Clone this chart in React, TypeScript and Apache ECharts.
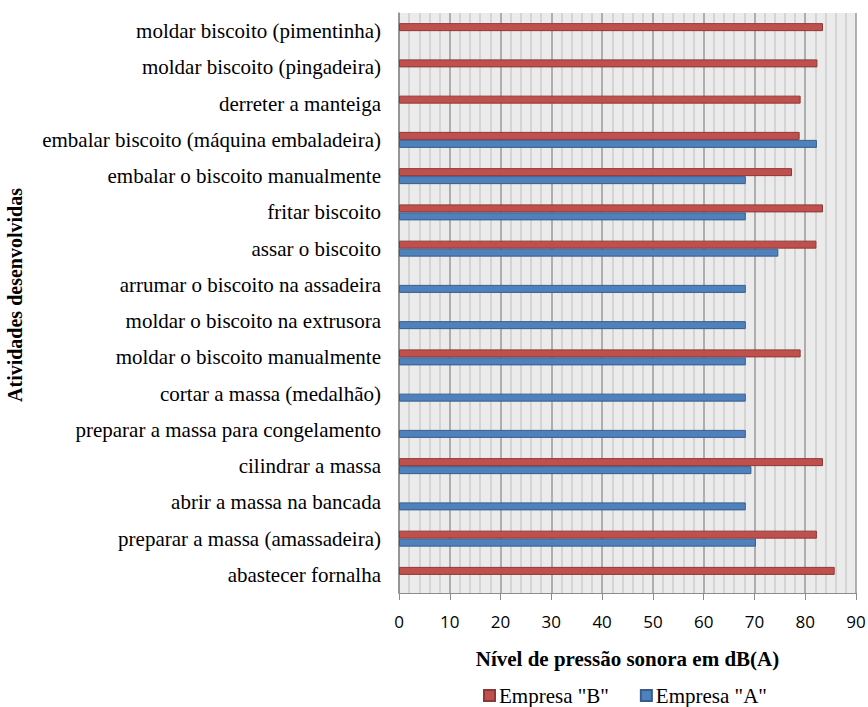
import React, { useEffect, useRef } from "react";
import * as echarts from "echarts";

const categories = [
  "abastecer fornalha",
  "preparar a massa (amassadeira)",
  "abrir a massa na bancada",
  "cilindrar a massa",
  "preparar a massa para congelamento",
  "cortar a massa (medalhão)",
  "moldar o biscoito manualmente",
  "moldar o biscoito na extrusora",
  "arrumar o biscoito na assadeira",
  "assar o biscoito",
  "fritar biscoito",
  "embalar o biscoito manualmente",
  "embalar biscoito (máquina embaladeira)",
  "derreter a manteiga",
  "moldar biscoito (pingadeira)",
  "moldar biscoito (pimentinha)",
];

const empresaA: (number | null)[] = [
  null, 70.3, 68.3, 69.4, 68.3, 68.3, 68.3, 68.3, 68.3, 74.7, 68.3, 68.3, 82.3, null, null, null,
];

const empresaB: (number | null)[] = [
  85.8, 82.3, null, 83.5, null, null, 79.1, null, null, 82.2, 83.5, 77.4, 78.9, 79.1, 82.4, 83.5,
];

const xTicks = { min: 0, max: 90, interval: 10 };

const SERIF = "'Liberation Serif', 'Times New Roman', 'DejaVu Serif', serif";

export default function App() {
  const ref = useRef<HTMLDivElement>(null);
  useEffect(() => {
    if (!ref.current) return;
    const chart = echarts.init(ref.current, undefined, { renderer: "svg" });
    chart.setOption({
      animation: false,
      backgroundColor: "#ffffff",
      grid: {
        left: 399,
        right: 12,
        top: 13,
        bottom: 114,
        show: true,
        backgroundColor: "#ebebeb",
        borderWidth: 0,
        containLabel: false,
        outerBoundsMode: "none",
      },
      legend: {
        data: ['Empresa "B"', 'Empresa "A"'],
        left: 483,
        top: 685,
        padding: 0,
        itemWidth: 11,
        itemHeight: 11,
        itemGap: 31,
        icon: "rect",
        textStyle: {
          fontFamily: SERIF,
          fontSize: 21,
          color: "#000",
          padding: [0, 0, 0, -1],
        },
      },
      xAxis: {
        type: "value",
        min: xTicks.min,
        max: xTicks.max,
        interval: xTicks.interval,
        name: "Nível de pressão sonora em dB(A)",
        nameLocation: "middle",
        nameGap: 55,
        nameTextStyle: {
          fontFamily: SERIF,
          fontWeight: "bold",
          fontSize: 21,
          color: "#000",
        },
        axisLine: { show: true, lineStyle: { color: "#8c8c8c", width: 1 } },
        axisTick: { show: true, length: 7, lineStyle: { color: "#8c8c8c" } },
        axisLabel: {
          fontFamily: "'Open Sans', sans-serif",
          fontSize: 17,
          color: "#000",
          margin: 20,
        },
        splitLine: { show: true, lineStyle: { color: "#9a9a9a", width: 1.5 } },
        minorTick: { show: false, splitNumber: 5 },
        minorSplitLine: { show: true, lineStyle: { color: "#cdcdcd", width: 1.5 } },
      },
      yAxis: {
        type: "category",
        data: categories,
        name: "Atividades desenvolvidas",
        nameLocation: "middle",
        nameGap: 374,
        nameTextStyle: {
          fontFamily: SERIF,
          fontWeight: "bold",
          fontSize: 20,
          color: "#000",
          padding: [0, 0, 0, 16],
        },
        axisLine: { show: true, lineStyle: { color: "#8c8c8c", width: 1.5 } },
        axisTick: { show: false },
        axisLabel: {
          fontFamily: SERIF,
          fontSize: 21,
          color: "#000",
          margin: 18,
        },
        splitLine: { show: false },
      },
      series: [
        {
          name: 'Empresa "B"',
          type: "bar",
          data: empresaB,
          barWidth: 8,
          barGap: "0%",
          itemStyle: { color: "#c0504d", borderColor: "#8c3836", borderWidth: 1 },
        },
        {
          name: 'Empresa "A"',
          type: "bar",
          data: empresaA,
          barWidth: 8,
          barGap: "0%",
          itemStyle: { color: "#4f81bd", borderColor: "#385d8a", borderWidth: 1 },
        },
      ],
    });
    return () => chart.dispose();
  }, []);
  return <div ref={ref} style={{ width: 868, height: 707, position: "absolute", left: 0, top: 0 }} />;
}
